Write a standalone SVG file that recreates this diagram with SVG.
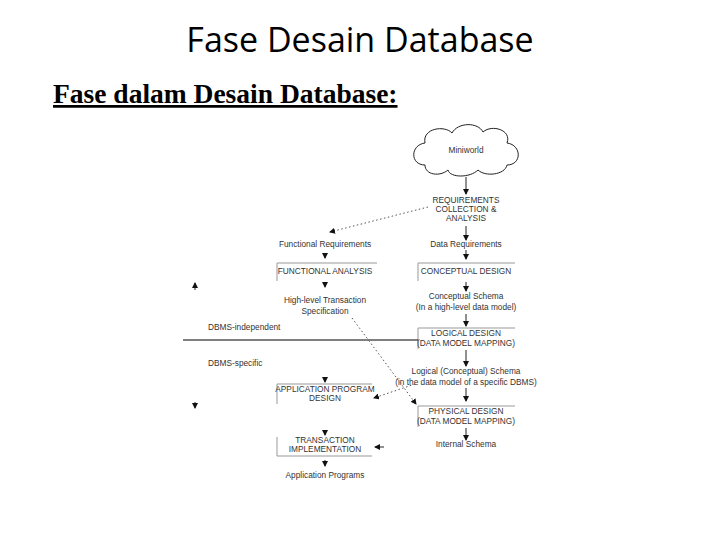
<svg xmlns="http://www.w3.org/2000/svg" width="720" height="540" viewBox="0 0 720 540">
<style>
.t{font-family:"Liberation Sans",Arial,sans-serif;font-size:8.3px;fill:#333;text-anchor:middle}
.l{font-family:"Liberation Sans",Arial,sans-serif;font-size:8.3px;fill:#333}
.box{fill:none;stroke:#999;stroke-width:1}
.c{stroke:#222;stroke-width:1;fill:none}
.d{stroke:#555;stroke-width:1;fill:none;stroke-dasharray:1.5,2.5}
</style>
<defs>
<marker id="ah" markerWidth="6" markerHeight="6" refX="5" refY="3" orient="auto" markerUnits="userSpaceOnUse">
<path d="M0,0 L6,3 L0,6 Z" fill="#111"/>
</marker>
</defs>
<rect width="720" height="540" fill="#fff"/>
<text x="360" y="52" font-family="Open Sans,Liberation Sans,sans-serif" font-size="34" fill="#000" text-anchor="middle">Fase Desain Database</text>
<text x="53" y="103" font-family="Liberation Serif,Times New Roman,serif" font-size="27.5" font-weight="bold" fill="#000" text-decoration="underline">Fase dalam Desain Database:</text>

<g id="miniworld">
<path d="M425,165 C410,165 410,145 425,143 C422,128 445,125 452,133 C458,122 478,122 483,132 C492,124 512,130 507,143 C522,145 522,165 507,165 C505,175 485,177 478,170 C470,178 450,178 448,170 C440,177 425,175 425,165 Z" fill="#fff" stroke="#222" stroke-width="1"/>
<text class="t" x="466" y="153">Miniworld</text>
</g>
<g id="requirements">
<text class="t" x="466" y="203">REQUIREMENTS</text>
<text class="t" x="466" y="212">COLLECTION &amp;</text>
<text class="t" x="466" y="221">ANALYSIS</text>
</g>
<g id="functional-req"><text class="t" x="325" y="247">Functional Requirements</text></g>
<g id="data-req"><text class="t" x="466" y="247">Data Requirements</text></g>
<g id="functional-analysis">
<path class="box" d="M277,281 V263 H377"/>
<text class="t" x="325" y="274">FUNCTIONAL ANALYSIS</text>
</g>
<g id="conceptual-design">
<path class="box" d="M418,281 V263 H515"/>
<text class="t" x="466" y="274">CONCEPTUAL DESIGN</text>
</g>
<g id="transaction-spec">
<text class="t" x="325" y="303">High-level Transaction</text>
<text class="t" x="325" y="314">Specification</text>
</g>
<g id="conceptual-schema">
<text class="t" x="466" y="299">Conceptual Schema</text>
<text class="t" x="466" y="310">(In a high-level data model)</text>
</g>
<g id="logical-design">
<path class="box" d="M418,349 V328 H515"/>
<text class="t" x="466" y="336">LOGICAL DESIGN</text>
<text class="t" x="466" y="346">(DATA MODEL MAPPING)</text>
</g>
<g id="dbms-labels">
<text class="l" x="208" y="330">DBMS-independent</text>
<text class="l" x="208" y="366">DBMS-specific</text>
</g>
<g id="logical-schema">
<text class="t" x="466" y="374">Logical (Conceptual) Schema</text>
<text class="t" x="466" y="385">(in the data model of a specific DBMS)</text>
</g>
<g id="app-design">
<path class="box" d="M277,404 V384 H372"/>
<text class="t" x="325" y="392">APPLICATION PROGRAM</text>
<text class="t" x="325" y="401">DESIGN</text>
</g>
<g id="physical-design">
<path class="box" d="M418,427 V406 H515"/>
<text class="t" x="466" y="414">PHYSICAL DESIGN</text>
<text class="t" x="466" y="424">(DATA MODEL MAPPING)</text>
</g>
<g id="internal-schema"><text class="t" x="466" y="447">Internal Schema</text></g>
<g id="transaction-impl">
<path class="box" d="M277,437 V456 H372" stroke="#666"/>
<text class="t" x="325" y="443">TRANSACTION</text>
<text class="t" x="325" y="452">IMPLEMENTATION</text>
</g>
<g id="app-programs"><text class="t" x="325" y="478">Application Programs</text></g>

<g id="connectors">
<line x1="183" y1="340" x2="418" y2="340" stroke="#000" stroke-width="1"/>
<line class="c" x1="466" y1="177" x2="466" y2="194" marker-end="url(#ah)"/>
<line class="c" x1="466" y1="226" x2="466" y2="240" marker-end="url(#ah)"/>
<line class="c" x1="466" y1="250" x2="466" y2="259" marker-end="url(#ah)"/>
<line class="c" x1="466" y1="282" x2="466" y2="291" marker-end="url(#ah)"/>
<line class="c" x1="466" y1="314" x2="466" y2="326" marker-end="url(#ah)"/>
<line class="c" x1="466" y1="350" x2="466" y2="366" marker-end="url(#ah)"/>
<line class="c" x1="466" y1="388" x2="466" y2="401" marker-end="url(#ah)"/>
<line class="c" x1="466" y1="428" x2="466" y2="440" marker-end="url(#ah)"/>
<line class="c" x1="325" y1="253" x2="325" y2="258" marker-end="url(#ah)"/>
<line class="c" x1="325" y1="282" x2="325" y2="287" marker-end="url(#ah)"/>
<line class="c" x1="325" y1="377" x2="325" y2="382" marker-end="url(#ah)"/>
<line class="c" x1="325" y1="430" x2="325" y2="435" marker-end="url(#ah)"/>
<line class="c" x1="325" y1="460" x2="325" y2="466" marker-end="url(#ah)"/>
<line class="c" x1="195" y1="290" x2="195" y2="283" marker-end="url(#ah)"/>
<line class="c" x1="195" y1="402" x2="195" y2="408" marker-end="url(#ah)"/>
<line class="c" x1="384" y1="447" x2="375" y2="447" marker-end="url(#ah)"/>
<line class="d" x1="428" y1="207" x2="330" y2="232" marker-end="url(#ah)"/>
<line class="d" x1="352" y1="318" x2="416" y2="404" marker-end="url(#ah)"/>
<line class="d" x1="415" y1="384" x2="374" y2="398" marker-end="url(#ah)"/>
</g>
</svg>
